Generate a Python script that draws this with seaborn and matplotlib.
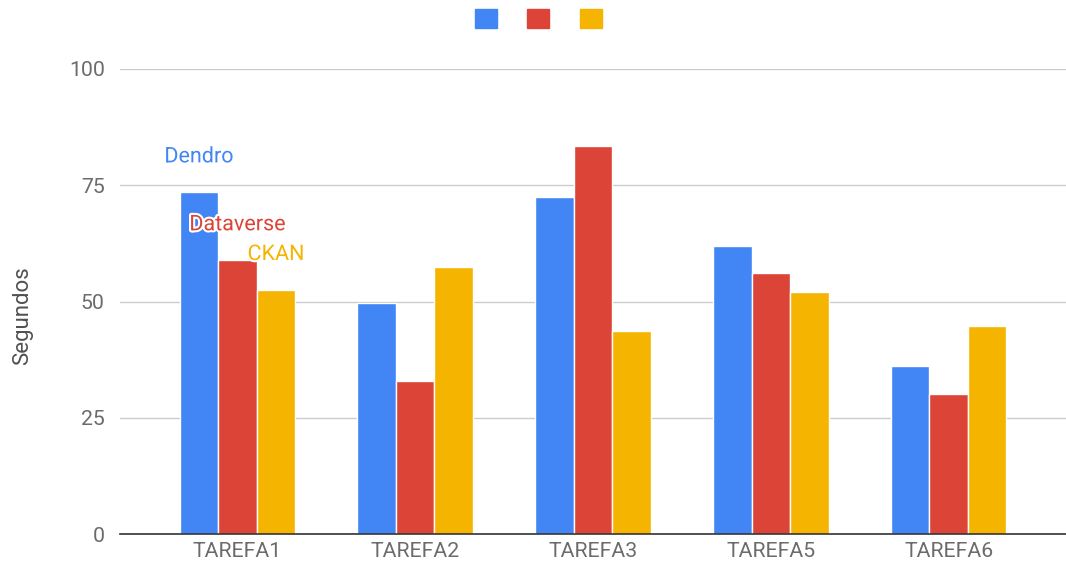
import matplotlib
matplotlib.use("Agg")
import matplotlib.pyplot as plt
import seaborn as sns
import pandas as pd
from matplotlib.patches import Patch
import matplotlib.patheffects as pe

categories = ["TAREFA1", "TAREFA2", "TAREFA3", "TAREFA5", "TAREFA6"]
series_names = ["Dendro", "Dataverse", "CKAN"]
dendro = [73.5, 49.7, 72.5, 61.9, 36.1]
dataverse = [58.9, 32.9, 83.4, 56.1, 30.1]
ckan = [52.5, 57.4, 43.7, 52.0, 44.7]
yticks = [0, 25, 50, 75, 100]
colors = ["#4285F4", "#DB4437", "#F4B400"]

rows = []
for name, vals in zip(series_names, [dendro, dataverse, ckan]):
    for c, v in zip(categories, vals):
        rows.append({"Tarefa": c, "Sistema": name, "Segundos": v})
df = pd.DataFrame(rows)

sns.set_style("white")
plt.rcParams["font.family"] = ["Roboto", "DejaVu Sans"]

fig = plt.figure(figsize=(10.66, 5.75), dpi=100)
ax = fig.add_axes([0.1126, 0.0713, 0.8874, 0.8087])

sns.barplot(data=df, x="Tarefa", y="Segundos", hue="Sistema", order=categories,
            hue_order=series_names, palette=colors, width=0.65, saturation=1,
            edgecolor="white", linewidth=1, legend=False, ax=ax)

ax.set_ylim(0, 100)
ax.set_xlim(-0.66, 4.66)
ax.set_yticks(yticks)
ax.set_yticklabels([str(t) for t in yticks])
ax.grid(axis="y", color="#cccccc", linewidth=1)
ax.set_axisbelow(True)
for s in ["left", "right", "top"]:
    ax.spines[s].set_visible(False)
ax.spines["bottom"].set_color("#333333")
ax.spines["bottom"].set_linewidth(1.2)
ax.tick_params(axis="both", length=0, labelsize=15.3, labelcolor="#6b6b6b")
ax.tick_params(axis="x", pad=6)
ax.tick_params(axis="y", pad=11)
ax.set_xlabel("")
ax.set_ylabel("Segundos", fontsize=16, color="#505050")
ax.yaxis.set_label_coords(-0.092, 0.47)

# series labels above the first group of bars
nser = len(series_names)
bw = 0.65 / nser
for i, (name, vals, col) in enumerate(zip(series_names, [dendro, dataverse, ckan], colors)):
    x = 0 - 0.65 / 2 + bw * (i + 0.5)
    ax.text(x, vals[0] + 7.6, name, color=col, fontsize=15.5, ha="center", va="center",
            path_effects=[pe.withStroke(linewidth=3, foreground="white")])

handles = [Patch(facecolor=c, edgecolor=c, linewidth=1, joinstyle="round") for c in colors]
fig.legend(handles, ["", "", ""], ncol=3, loc="upper center", bbox_to_anchor=(0.505, 1.0),
           frameon=False, fontsize=13, handlelength=1.2, handleheight=1.2,
           handletextpad=0, columnspacing=1.7, borderaxespad=0.1)

fig.savefig("out.png", dpi=100)
